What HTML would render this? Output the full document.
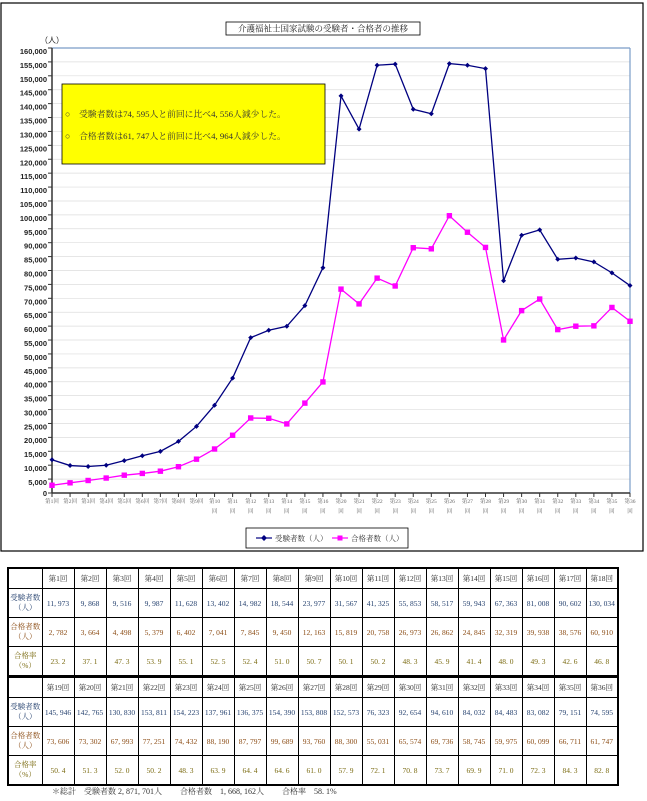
<!DOCTYPE html>
<html><head><meta charset="utf-8">
<style>
body{margin:0;width:647px;height:801px;background:#fff;position:relative;overflow:hidden;font-family:"Liberation Sans","Noto Sans CJK JP",sans-serif}
#chart{position:absolute;left:0;top:0}
table{position:absolute;left:7px;border-collapse:collapse;border:2.5px solid #000;table-layout:fixed;font-family:"Liberation Serif","Noto Serif CJK JP",serif;font-size:7.5px}
td{border:1px solid #000;text-align:center;padding:0;overflow:hidden;white-space:nowrap}
tr.h td{height:19px;color:#333}
tr.a td{height:28px;color:#24406e}
tr.b td{height:28px;color:#8a4a12}
tr.c td{height:28px;color:#7a6a10}
td.l{color:#7a2a2a;white-space:normal;line-height:10px;font-size:7.5px}
.foot{position:absolute;left:52px;top:786px;font-family:"Liberation Serif","Noto Serif CJK JP",serif;font-size:8px;color:#333;white-space:pre}
</style></head><body>
<svg id="chart" width="647" height="560" xmlns="http://www.w3.org/2000/svg">
<rect x="1" y="3" width="642" height="548" fill="#fff" stroke="#000" stroke-width="1.2"/>
<g id="grid"></g>
<rect x="226" y="22" width="194" height="13" fill="#fff" stroke="#000" stroke-width="0.8"/>
<text x="323" y="31.5" font-size="8.5" text-anchor="middle" fill="#222" font-family="Liberation Serif,Noto Serif CJK JP,serif">介護福祉士国家試験の受験者・合格者の推移</text>
<text x="40" y="43" font-size="8" fill="#222">（人）</text>
<g font-size="7.5" font-weight="bold" fill="#222" text-anchor="end">
<text x="47" y="496">0</text><text x="47" y="485">5,000</text><text x="47" y="471">10,000</text><text x="47" y="457">15,000</text><text x="47" y="443">20,000</text><text x="47" y="429.5">25,000</text><text x="47" y="415.6">30,000</text><text x="47" y="401.7">35,000</text><text x="47" y="387.7">40,000</text><text x="47" y="373.8">45,000</text><text x="47" y="359.9">50,000</text><text x="47" y="346">55,000</text><text x="47" y="332.1">60,000</text><text x="47" y="318.2">65,000</text><text x="47" y="304.3">70,000</text><text x="47" y="290.4">75,000</text><text x="47" y="276.5">80,000</text><text x="47" y="262.6">85,000</text><text x="47" y="248.7">90,000</text><text x="47" y="234.8">95,000</text><text x="47" y="220.9">100,000</text><text x="47" y="207">105,000</text><text x="47" y="193.1">110,000</text><text x="47" y="179.2">115,000</text><text x="47" y="165.3">120,000</text><text x="47" y="151.4">125,000</text><text x="47" y="137.5">130,000</text><text x="47" y="123.5">135,000</text><text x="47" y="109.6">140,000</text><text x="47" y="95.7">145,000</text><text x="47" y="81.8">150,000</text><text x="47" y="67.9">155,000</text><text x="47" y="54">160,000</text>
</g>
<g font-size="5.5" fill="#666" text-anchor="middle" font-family="Liberation Serif,Noto Serif CJK JP,serif">
<text x="52" y="503">第1回</text><text x="70.1" y="503">第2回</text><text x="88.1" y="503">第3回</text><text x="106.2" y="503">第4回</text><text x="124.3" y="503">第5回</text><text x="142.3" y="503">第6回</text><text x="160.4" y="503">第7回</text><text x="178.4" y="503">第8回</text><text x="196.5" y="503">第9回</text>
<text x="214.6" y="503">第10</text><text x="232.6" y="503">第11</text><text x="250.7" y="503">第12</text><text x="268.8" y="503">第13</text><text x="286.8" y="503">第14</text><text x="304.9" y="503">第15</text><text x="322.9" y="503">第16</text><text x="341" y="503">第20</text><text x="359.1" y="503">第21</text><text x="377.1" y="503">第22</text><text x="395.2" y="503">第23</text><text x="413.3" y="503">第24</text><text x="431.3" y="503">第25</text><text x="449.4" y="503">第26</text><text x="467.4" y="503">第27</text><text x="485.5" y="503">第28</text><text x="503.6" y="503">第29</text><text x="521.6" y="503">第30</text><text x="539.7" y="503">第31</text><text x="557.8" y="503">第32</text><text x="575.8" y="503">第33</text><text x="593.9" y="503">第34</text><text x="611.9" y="503">第35</text><text x="630" y="503">第36</text>
<text x="214.6" y="513">回</text><text x="232.6" y="513">回</text><text x="250.7" y="513">回</text><text x="268.8" y="513">回</text><text x="286.8" y="513">回</text><text x="304.9" y="513">回</text><text x="322.9" y="513">回</text><text x="341" y="513">回</text><text x="359.1" y="513">回</text><text x="377.1" y="513">回</text><text x="395.2" y="513">回</text><text x="413.3" y="513">回</text><text x="431.3" y="513">回</text><text x="449.4" y="513">回</text><text x="467.4" y="513">回</text><text x="485.5" y="513">回</text><text x="503.6" y="513">回</text><text x="521.6" y="513">回</text><text x="539.7" y="513">回</text><text x="557.8" y="513">回</text><text x="575.8" y="513">回</text><text x="593.9" y="513">回</text><text x="611.9" y="513">回</text><text x="630" y="513">回</text>
</g>
<g id="data"></g>
<rect x="62" y="84" width="263" height="80" fill="#ffff00" stroke="#000" stroke-width="0.8"/>
<g font-size="8.8" fill="#333" font-family="Liberation Serif,Noto Serif CJK JP,serif">
<text x="65" y="117">○　受験者数は74, 595人と前回に比べ4, 556人減少した。</text>
<text x="65" y="139">○　合格者数は61, 747人と前回に比べ4, 964人減少した。</text>
</g>
<rect x="246" y="528" width="162" height="20" fill="#fff" stroke="#000" stroke-width="0.8"/>
<line x1="256" y1="538" x2="272" y2="538" stroke="#000080" stroke-width="1.2"/>
<path d="M264 535 L267 538 L264 541 L261 538Z" fill="#000080"/>
<text x="275" y="541" font-size="7.5" fill="#333" font-family="Liberation Serif,Noto Serif CJK JP,serif">受験者数（人）</text>
<line x1="332" y1="538" x2="348" y2="538" stroke="#ff00ff" stroke-width="1.2"/>
<rect x="337.5" y="535.5" width="5" height="5" fill="#ff00ff"/>
<text x="351" y="541" font-size="7.5" fill="#333" font-family="Liberation Serif,Noto Serif CJK JP,serif">合格者数（人）</text>
</svg>
<script>
(function(){
var A=[11973,9868,9516,9987,11628,13402,14982,18544,23977,31567,41325,55853,58517,59943,67363,81008,142765,130830,153811,154223,137961,136375,154390,153808,152573,76323,92654,94610,84032,84483,83082,79151,74595];
var B=[2782,3664,4498,5379,6402,7041,7845,9450,12163,15819,20758,26973,26862,24845,32319,39938,73302,67993,77251,74432,88190,87797,99689,93760,88300,55031,65574,69736,58745,59975,60099,66711,61747];
var N=A.length;
function X(i){return 52+i*578/(N-1)}function Y(v){return 493-v*445/160000}
var g=document.getElementById('grid'),s='';
for(var k=1;k<=32;k++){var y=Y(k*5000);s+='<line x1="52" y1="'+y+'" x2="630" y2="'+y+'" stroke="'+(k==32?'#7a9cc8':'#ddd')+'" stroke-width="'+(k==32?1.2:0.7)+'"/>';}
s+='<line x1="630" y1="48" x2="630" y2="493" stroke="#7a9cc8" stroke-width="1.2"/>';
s+='<line x1="52" y1="48" x2="52" y2="493" stroke="#333" stroke-width="1.5"/><line x1="52" y1="493" x2="630" y2="493" stroke="#333" stroke-width="1.5"/>';
for(k=0;k<=32;k++){var y=Y(k*5000);s+='<line x1="48" y1="'+y+'" x2="52" y2="'+y+'" stroke="#333"/>';}
for(var i=0;i<N;i++){s+='<line x1="'+X(i)+'" y1="493" x2="'+X(i)+'" y2="497" stroke="#333"/>';}
g.innerHTML=s;
var d=document.getElementById('data'),t='',pa='',pb='';
for(i=0;i<N;i++){pa+=X(i)+','+Y(A[i])+' ';pb+=X(i)+','+Y(B[i])+' ';}
t+='<polyline points="'+pb+'" fill="none" stroke="#ff00ff" stroke-width="1.3"/>';
t+='<polyline points="'+pa+'" fill="none" stroke="#000080" stroke-width="1.3"/>';
for(i=0;i<N;i++){var x=X(i),y=Y(B[i]);t+='<rect x="'+(x-2.7)+'" y="'+(y-2.7)+'" width="5.4" height="5.4" fill="#ff00ff"/>';
y=Y(A[i]);t+='<path d="M'+x+' '+(y-2.5)+' L'+(x+2.5)+' '+y+' L'+x+' '+(y+2.5)+' L'+(x-2.5)+' '+y+'Z" fill="#000080"/>';}
d.innerHTML=t;
})();
</script>

<table style="top:567px">
<colgroup><col style="width:34px"><col span="18" style="width:32px"></colgroup>
<tr class="h"><td></td><td>第1回</td><td>第2回</td><td>第3回</td><td>第4回</td><td>第5回</td><td>第6回</td><td>第7回</td><td>第8回</td><td>第9回</td><td>第10回</td><td>第11回</td><td>第12回</td><td>第13回</td><td>第14回</td><td>第15回</td><td>第16回</td><td>第17回</td><td>第18回</td></tr>
<tr class="a"><td class="l">受験者数<br>（人）</td><td>11, 973</td><td>9, 868</td><td>9, 516</td><td>9, 987</td><td>11, 628</td><td>13, 402</td><td>14, 982</td><td>18, 544</td><td>23, 977</td><td>31, 567</td><td>41, 325</td><td>55, 853</td><td>58, 517</td><td>59, 943</td><td>67, 363</td><td>81, 008</td><td>90, 602</td><td>130, 034</td></tr>
<tr class="b"><td class="l">合格者数<br>（人）</td><td>2, 782</td><td>3, 664</td><td>4, 498</td><td>5, 379</td><td>6, 402</td><td>7, 041</td><td>7, 845</td><td>9, 450</td><td>12, 163</td><td>15, 819</td><td>20, 758</td><td>26, 973</td><td>26, 862</td><td>24, 845</td><td>32, 319</td><td>39, 938</td><td>38, 576</td><td>60, 910</td></tr>
<tr class="c"><td class="l">合格率<br>（%）</td><td>23. 2</td><td>37. 1</td><td>47. 3</td><td>53. 9</td><td>55. 1</td><td>52. 5</td><td>52. 4</td><td>51. 0</td><td>50. 7</td><td>50. 1</td><td>50. 2</td><td>48. 3</td><td>45. 9</td><td>41. 4</td><td>48. 0</td><td>49. 3</td><td>42. 6</td><td>46. 8</td></tr>
</table>
<table style="top:676px">
<colgroup><col style="width:34px"><col span="18" style="width:32px"></colgroup>
<tr class="h"><td></td><td>第19回</td><td>第20回</td><td>第21回</td><td>第22回</td><td>第23回</td><td>第24回</td><td>第25回</td><td>第26回</td><td>第27回</td><td>第28回</td><td>第29回</td><td>第30回</td><td>第31回</td><td>第32回</td><td>第33回</td><td>第34回</td><td>第35回</td><td>第36回</td></tr>
<tr class="a"><td class="l">受験者数<br>（人）</td><td>145, 946</td><td>142, 765</td><td>130, 830</td><td>153, 811</td><td>154, 223</td><td>137, 961</td><td>136, 375</td><td>154, 390</td><td>153, 808</td><td>152, 573</td><td>76, 323</td><td>92, 654</td><td>94, 610</td><td>84, 032</td><td>84, 483</td><td>83, 082</td><td>79, 151</td><td>74, 595</td></tr>
<tr class="b"><td class="l">合格者数<br>（人）</td><td>73, 606</td><td>73, 302</td><td>67, 993</td><td>77, 251</td><td>74, 432</td><td>88, 190</td><td>87, 797</td><td>99, 689</td><td>93, 760</td><td>88, 300</td><td>55, 031</td><td>65, 574</td><td>69, 736</td><td>58, 745</td><td>59, 975</td><td>60, 099</td><td>66, 711</td><td>61, 747</td></tr>
<tr class="c"><td class="l">合格率<br>（%）</td><td>50. 4</td><td>51. 3</td><td>52. 0</td><td>50. 2</td><td>48. 3</td><td>63. 9</td><td>64. 4</td><td>64. 6</td><td>61. 0</td><td>57. 9</td><td>72. 1</td><td>70. 8</td><td>73. 7</td><td>69. 9</td><td>71. 0</td><td>72. 3</td><td>84. 3</td><td>82. 8</td></tr>
</table>
<div class="foot">＊総計　受験者数 2, 871, 701人　　 合格者数　1, 668, 162人　　 合格率　58. 1%</div>
</body></html>
